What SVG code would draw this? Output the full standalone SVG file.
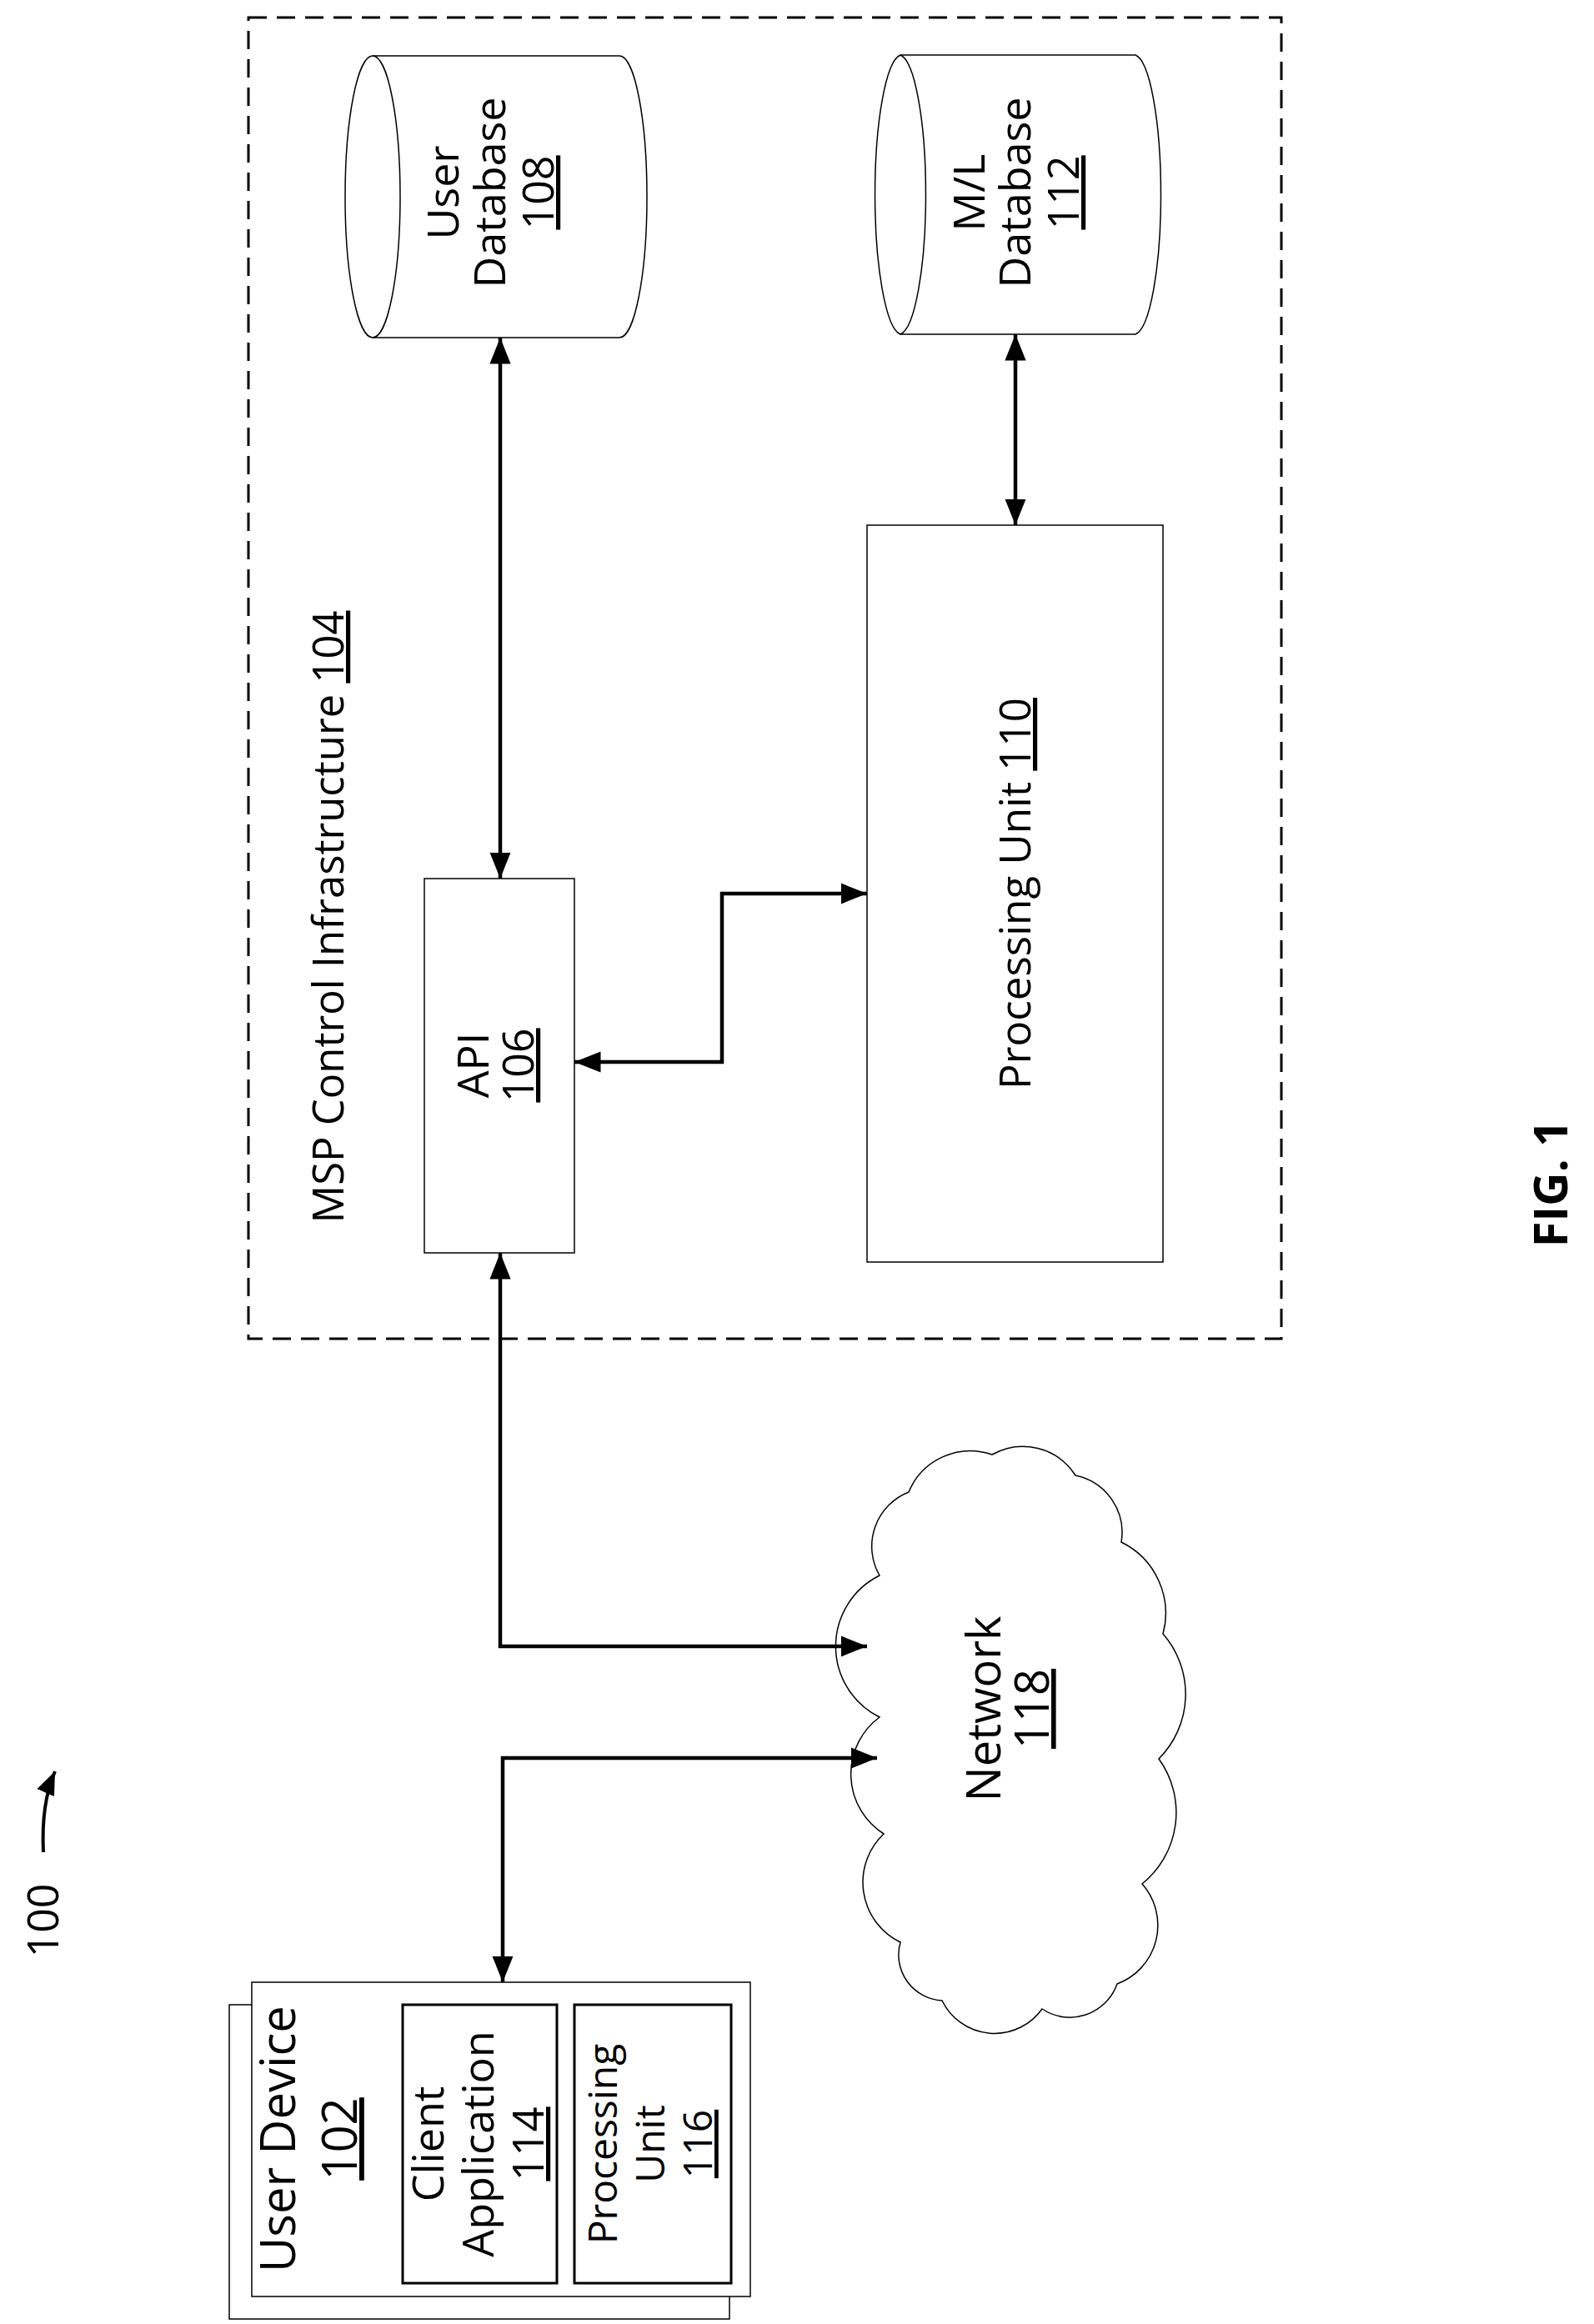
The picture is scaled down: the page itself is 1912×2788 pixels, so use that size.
<svg xmlns="http://www.w3.org/2000/svg" width="1912" height="2788" viewBox="0 0 1912 2788">
<style>
text{font-family:"Open Sans","Liberation Sans",sans-serif;font-size:52px;fill:#000;text-anchor:middle}
.thin{fill:#fff;stroke:#000;stroke-width:1.5}
.box{fill:#fff;stroke:#000;stroke-width:3}
.con{fill:none;stroke:#000;stroke-width:4.5;marker-end:url(#ah)}
.bi{marker-start:url(#ahs)}
</style>
<defs>
<marker id="ah" viewBox="0 0 10 10" refX="10" refY="5" markerWidth="7" markerHeight="7" orient="auto" markerUnits="strokeWidth"><path d="M0,1 L10,5 L0,9 Z" fill="#000"/></marker>
<marker id="ahs" viewBox="0 0 10 10" refX="0" refY="5" markerWidth="7" markerHeight="7" orient="auto" markerUnits="strokeWidth"><path d="M10,1 L0,5 L10,9 Z" fill="#000"/></marker>
</defs>
<rect width="1912" height="2788" fill="#fff"/>
<g id="msp">
<rect x="298" y="21" width="1239" height="1585" fill="none" stroke="#000" stroke-width="3" stroke-dasharray="22,12"/>
<text transform="translate(412,1100) rotate(-90)" textLength="735" lengthAdjust="spacingAndGlyphs">MSP Control Infrastructure <tspan text-decoration="underline">104</tspan></text>
</g>
<g id="userdb">
<path class="thin" d="M447,67 H743 A33,169 0 0 1 743,405 H447 A33,169 0 0 1 447,67 Z"/>
<path class="thin" fill="none" d="M447,67 A33,169 0 0 1 447,405"/>
<text transform="translate(550,231) rotate(-90)">User</text>
<text transform="translate(606,231) rotate(-90)">Database</text>
<text transform="translate(664,231) rotate(-90)" text-decoration="underline">108</text>
</g>
<g id="mldb">
<path class="thin" d="M1080,66 H1362 A33,168 0 0 1 1362,401 H1080 A33,168 0 0 1 1080,66 Z"/>
<path class="thin" fill="none" d="M1080,66 A33,168 0 0 1 1080,401"/>
<text transform="translate(1181,231) rotate(-90)">M/L</text>
<text transform="translate(1236,231) rotate(-90)">Database</text>
<text transform="translate(1294,231) rotate(-90)" text-decoration="underline">112</text>
</g>
<g id="api">
<rect class="thin" x="509" y="1054" width="180" height="449"/>
<text transform="translate(586,1278) rotate(-90)">API</text>
<text transform="translate(640,1278) rotate(-90)" text-decoration="underline">106</text>
</g>
<g id="pu110">
<rect class="thin" x="1040" y="630" width="355" height="884"/>
<text transform="translate(1236,1072) rotate(-90)" textLength="470" lengthAdjust="spacingAndGlyphs">Processing Unit <tspan text-decoration="underline">110</tspan></text>
</g>
<g id="network">
<path class="thin" d="M1055,1890 A70,70 0 0 1 1090,1790 A80,80 0 0 1 1190,1745 A75,75 0 0 1 1290,1770 A70,70 0 0 1 1345,1850 A95,95 0 0 1 1395,1960 A110,110 0 0 1 1390,2110 A110,110 0 0 1 1370,2260 A75,75 0 0 1 1340,2380 A60,60 0 0 1 1250,2410 A70,70 0 0 1 1130,2400 A55,55 0 0 1 1080,2330 A80,80 0 0 1 1060,2200 A85,85 0 0 1 1055,2060 A95,95 0 0 1 1055,1890 Z"/>
<text transform="translate(1200,2050) rotate(-90)" style="font-size:56px">Network</text>
<text transform="translate(1258,2050) rotate(-90)" style="font-size:56px" text-decoration="underline">118</text>
</g>
<g id="userdevice">
<rect class="thin" x="275" y="2405" width="600" height="377"/>
<rect class="thin" x="302" y="2378" width="598" height="377"/>
<text transform="translate(354,2566) rotate(-90)" style="font-size:58px">User Device</text>
<text transform="translate(428,2566) rotate(-90)" style="font-size:58px" text-decoration="underline">102</text>
<rect class="box" x="483" y="2405" width="185" height="334"/>
<text transform="translate(532,2572) rotate(-90)">Client</text>
<text transform="translate(592,2572) rotate(-90)">Application</text>
<text transform="translate(652,2572) rotate(-90)" text-decoration="underline">114</text>
<rect class="box" x="689" y="2405" width="188" height="334"/>
<text transform="translate(740,2572) rotate(-90)" style="font-size:48px">Processing</text>
<text transform="translate(797,2572) rotate(-90)" style="font-size:48px">Unit</text>
<text transform="translate(854,2572) rotate(-90)" style="font-size:48px" text-decoration="underline">116</text>
</g>
<g id="label100">
<text transform="translate(70,2304) rotate(-90)">100</text>
<path d="M52,2222 C50,2180 55,2150 66,2125" fill="none" stroke="#000" stroke-width="4" marker-end="url(#ah)"/>
</g>
<g id="fig">
<text transform="translate(1880,1420) rotate(-90)" style="font-weight:bold;font-size:56px">FIG. 1</text>
</g>
<g id="connectors">
<path class="con bi" d="M600,405 V1054"/>
<path class="con bi" d="M1218,401 V630"/>
<path class="con bi" d="M689,1274 H866 V1072 H1040"/>
<path class="con bi" d="M600,1503 V1975 H1040"/>
<path class="con bi" d="M603,2378 V2109 H1052"/>
</g>
</svg>
